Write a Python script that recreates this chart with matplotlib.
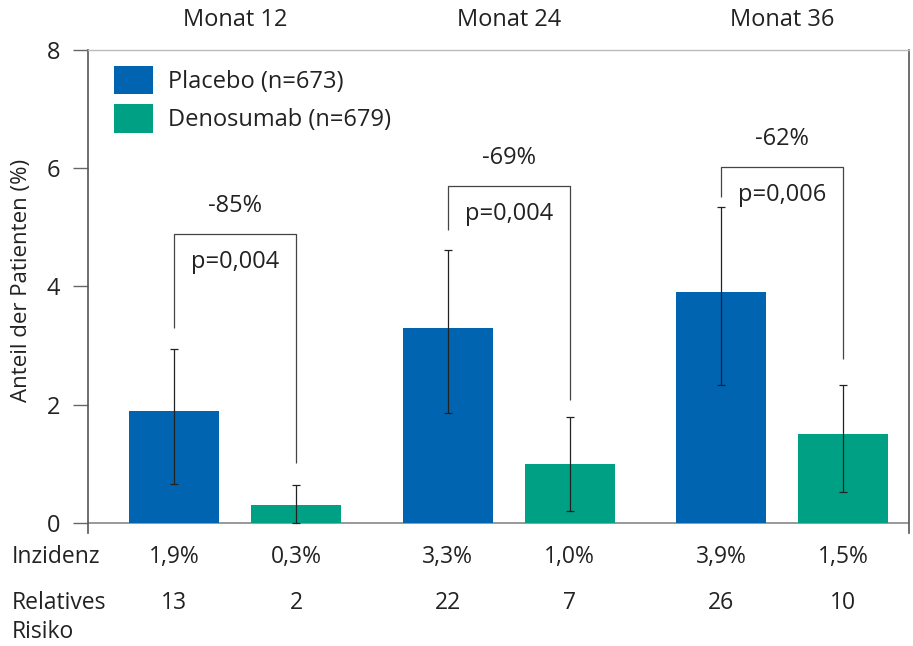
import matplotlib
matplotlib.use("Agg")
import matplotlib.pyplot as plt
from matplotlib import font_manager
from matplotlib.patches import Patch
from matplotlib.transforms import blended_transform_factory
import numpy as np

# ---- data ----
months = ["Monat 12", "Monat 24", "Monat 36"]
series = ["Placebo (n=673)", "Denosumab (n=679)"]
placebo = [1.9, 3.3, 3.9]
denosumab = [0.3, 1.0, 1.5]
placebo_ci_low = [0.66, 1.86, 2.33]
placebo_ci_high = [2.94, 4.62, 5.34]
denosumab_ci_low = [0.0, 0.20, 0.52]
denosumab_ci_high = [0.64, 1.79, 2.33]
reduction_labels = ["-85%", "-69%", "-62%"]
p_labels = ["p=0,004", "p=0,004", "p=0,006"]
bracket_top = [4.89, 5.70, 6.02]
bracket_left_end = [3.30, 4.96, 5.51]
bracket_right_end = [1.01, 2.08, 2.77]
incidence_labels = ["1,9%", "0,3%", "3,3%", "1,0%", "3,9%", "1,5%"]
rr_labels = ["13", "2", "22", "7", "26", "10"]
yticks = [0, 2, 4, 6, 8]

available = {f.name for f in font_manager.fontManager.ttflist}
main_font = "Open Sans" if "Open Sans" in available else "DejaVu Sans"
narrow_font = "Liberation Sans Narrow" if "Liberation Sans Narrow" in available else main_font
plt.rcParams["font.family"] = [main_font, "DejaVu Sans"]

TEXT = "#222222"
BLUE = "#0064B1"
GREEN = "#00A084"
FS = 17

fig = plt.figure(figsize=(9.13, 6.46), dpi=100)
ax = fig.add_axes([88 / 913, (646 - 533) / 646, (909 - 88) / 913, (533 - 50) / 646])

x = np.arange(len(months))
off = 0.223
width = 0.329
xp = x - off
xd = x + off

ax.bar(xp, placebo, width, color=BLUE, zorder=2)
ax.bar(xd, denosumab, width, color=GREEN, zorder=2)

err_kw = dict(fmt="none", ecolor=TEXT, elinewidth=0.9, capsize=2.6, capthick=0.9, zorder=3)
ax.errorbar(xp, placebo,
            yerr=[np.subtract(placebo, placebo_ci_low), np.subtract(placebo_ci_high, placebo)],
            **err_kw)
ax.errorbar(xd, denosumab,
            yerr=[np.subtract(denosumab, denosumab_ci_low), np.subtract(denosumab_ci_high, denosumab)],
            **err_kw)

# significance brackets
for i in range(len(months)):
    ax.plot([xp[i], xp[i], xd[i], xd[i]],
            [bracket_left_end[i], bracket_top[i], bracket_top[i], bracket_right_end[i]],
            color="#444444", lw=0.9, zorder=3, solid_capstyle="butt")
    ax.text(x[i], bracket_top[i] + 0.47, reduction_labels[i], ha="center", va="center",
            fontsize=FS, color=TEXT)
    ax.text(x[i], bracket_top[i] - 0.48, p_labels[i], ha="center", va="center",
            fontsize=FS, color=TEXT)

ax.axhline(0, color="#888888", lw=1.2, zorder=1)

ax.set_xlim(-0.538, 2.463)
ax.set_ylim(-0.17, 8)
ax.set_yticks(yticks)
ax.set_yticklabels([str(t) for t in yticks], fontsize=FS, color=TEXT)
ax.set_xticks([])
ax.tick_params(axis="y", direction="out", length=11, width=1, color="#666666", pad=9)

for side in ["left", "right"]:
    ax.spines[side].set_color("#555555")
    ax.spines[side].set_linewidth(1.2)
ax.spines["bottom"].set_visible(False)
ax.spines["top"].set_color("#bbbbbb")
ax.spines["top"].set_linewidth(1.0)

fig.text(22 / 913, 1 - 280 / 646, "Anteil der Patienten (%)", rotation=90,
         ha="center", va="center", fontsize=16, color=TEXT)

# legend
handles = [Patch(facecolor=BLUE, edgecolor="none"), Patch(facecolor=GREEN, edgecolor="none")]
leg = fig.legend(handles, series, loc="upper left",
                 bbox_to_anchor=(114 / 913, 1 - 66 / 646), bbox_transform=fig.transFigure,
                 frameon=False, fontsize=FS, handlelength=1.65, handleheight=1.48,
                 handletextpad=0.62, labelspacing=0.42, borderpad=0, borderaxespad=0)
for t in leg.get_texts():
    t.set_color(TEXT)

# month headers and table below the axis
tr = blended_transform_factory(ax.transData, fig.transFigure)
for i, m in enumerate(months):
    ax.text(x[i], 1 - 20 / 646, m, transform=tr, ha="center", va="center",
            fontsize=FS, color=TEXT)

tab_kw = dict(fontsize=16.5, color=TEXT, family=[narrow_font, "DejaVu Sans"])
centers = np.ravel(np.column_stack([xp, xd]))
for cx, inc, rr in zip(centers, incidence_labels, rr_labels):
    ax.text(cx, 1 - 557 / 646, inc, transform=tr, ha="center", va="center", **tab_kw)
    ax.text(cx, 1 - 603 / 646, rr, transform=tr, ha="center", va="center", **tab_kw)

fig.text(12 / 913, 1 - 557 / 646, "Inzidenz", ha="left", va="center", **tab_kw)
fig.text(12 / 913, 1 - 603 / 646, "Relatives", ha="left", va="center", **tab_kw)
fig.text(12 / 913, 1 - 632 / 646, "Risiko", ha="left", va="center", **tab_kw)

fig.savefig("out.png", dpi=100)
